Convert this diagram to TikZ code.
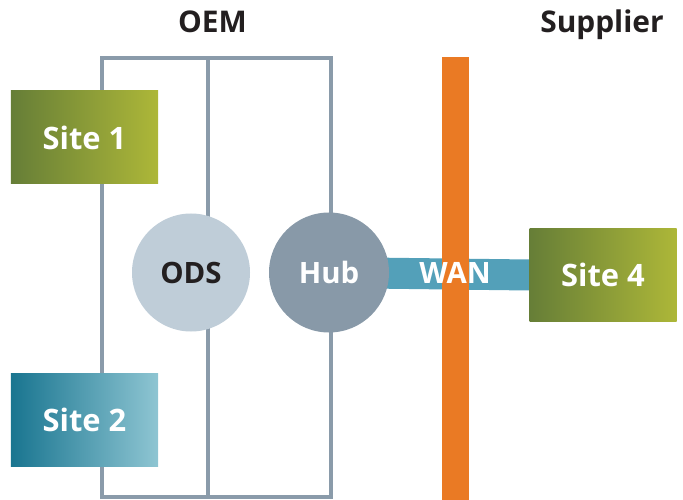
\documentclass[tikz,border=0pt]{standalone}
\usepackage{fontspec}
\setmainfont{Open Sans}
\usetikzlibrary{backgrounds}

\definecolor{frameGray}{HTML}{8A9BAA}
\definecolor{odsFill}{HTML}{BFCDD8}
\definecolor{hubFill}{HTML}{8899A8}
\definecolor{wanBlue}{HTML}{53A0B9}
\definecolor{orangeBar}{HTML}{EA7A24}
\definecolor{oliveDark}{HTML}{667E37}
\definecolor{oliveLight}{HTML}{ADB738}
\definecolor{tealDark}{HTML}{197590}
\definecolor{tealLight}{HTML}{8EC5D2}
\definecolor{textDark}{HTML}{231F20}

\tikzset{
  sitebox/.style={rectangle, minimum width=147bp, minimum height=93bp,
    inner sep=0pt, text=white, font=\fontsize{31}{36}\selectfont\bfseries},
  greensite/.style={sitebox, left color=oliveDark, right color=oliveLight},
  bluesite/.style={sitebox, left color=tealDark, right color=tealLight},
  roundnode/.style={circle, inner sep=0pt, font=\fontsize{29.5}{34}\selectfont\bfseries},
  header/.style={text=textDark, font=\fontsize{30}{34}\selectfont\bfseries, anchor=base},
  frameline/.style={draw=frameGray, line width=3.2bp},
}

\begin{document}
\begin{tikzpicture}[x=1bp, y=-1bp]
\useasboundingbox (0,0) rectangle (683,500);

% headers
\node[header] (oem) at (212.5,33) {OEM};
\node[header] (supplier) at (602,33) {Supplier};

% sites and central nodes
\node[greensite] (site1) at (84.5,137.5) {Site 1};
\node[bluesite] (site2) at (84.5,420) {Site 2};
\node[roundnode, fill=odsFill, text=textDark, minimum size=118bp] (ods) at (191,272.5) {ODS};
\node[roundnode, fill=hubFill, text=white, minimum size=120bp] (hub) at (329,272.5) {Hub};
\node[greensite] (site4) at (603,275) {Site 4};
\node[roundnode, text=white] (wan) at (455,272.5) {WAN};

% frame corners
\coordinate (ftl) at (102,58);
\coordinate (fbr) at (331,497);
\coordinate (mtop) at (208,58);
\coordinate (mbot) at (208,497);

\begin{scope}[on background layer]
  % OEM network frame
  \draw[frameline] (ftl) rectangle (fbr);
  \draw[frameline] (mtop) -- (mbot);
  % WAN link
  \draw[wanBlue, line width=31bp] (hub.center) -- (site4.west);
  % boundary between OEM and supplier
  \fill[orangeBar] (442,57) rectangle (469,500);
\end{scope}
\end{tikzpicture}
\end{document}
